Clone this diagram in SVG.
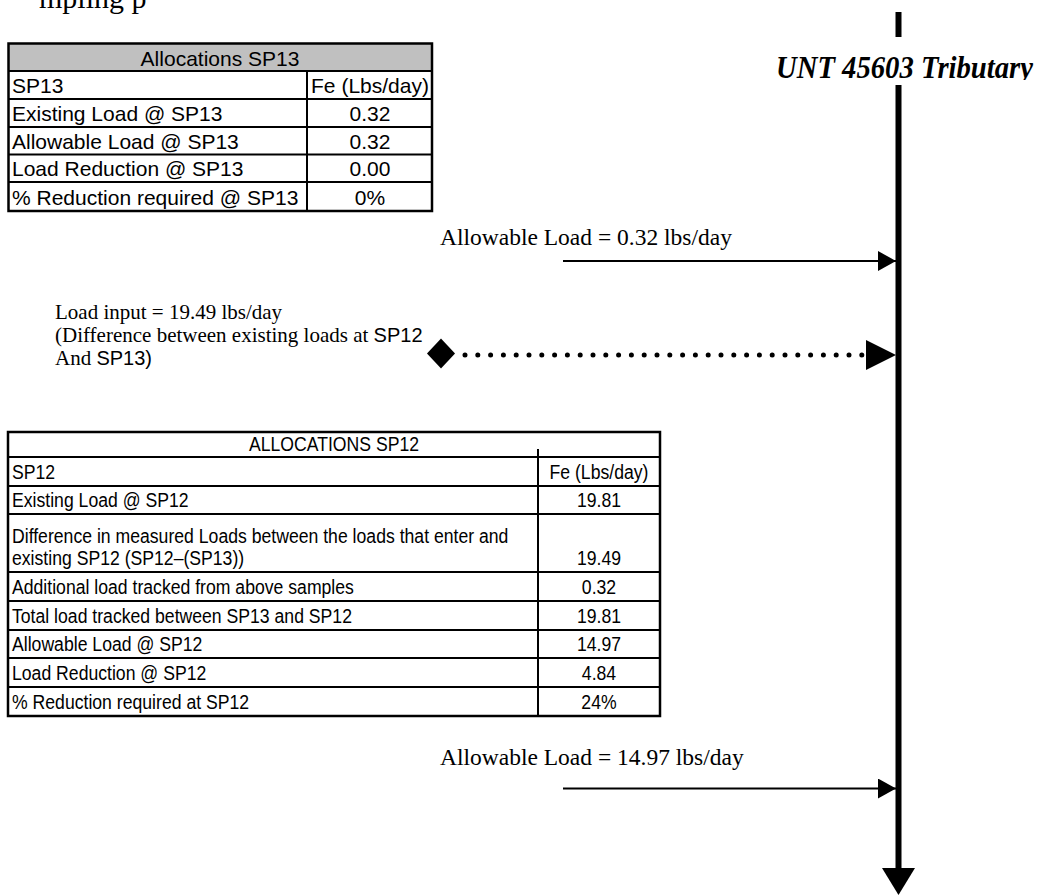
<svg xmlns="http://www.w3.org/2000/svg" width="1039" height="896" viewBox="0 0 1039 896">
<style>
.serif{font-family:"Liberation Serif","Times New Roman",serif;fill:#000}
.sans{font-family:"Liberation Sans",Arial,sans-serif;fill:#000}
.t13{font-size:21px}
.t12{font-size:21px}
.grid{stroke:#000;stroke-width:2;fill:none}
.outer{stroke:#000;stroke-width:2.5;fill:none}
.thin{stroke:#000;stroke-width:2;fill:none}
.river{stroke:#000;stroke-width:6;fill:none}
.mid{text-anchor:middle}
</style>
<defs>
<marker id="ah" markerUnits="userSpaceOnUse" markerWidth="18" markerHeight="20" refX="18" refY="10" orient="auto"><path d="M0,0 L18,10 L0,20 z" fill="#000"/></marker>
<marker id="ahBig" markerUnits="userSpaceOnUse" markerWidth="30" markerHeight="30" refX="30" refY="15" orient="auto"><path d="M0,0 L30,15 L0,30 z" fill="#000"/></marker>
<clipPath id="titleClip"><rect x="760" y="30" width="279" height="50"/></clipPath>
</defs>

<text class="serif" x="39" y="8" font-size="30">mpling p</text>

<g id="river">
<line class="river" x1="898.5" y1="12" x2="898.5" y2="37"/>
<line class="river" x1="898.5" y1="85" x2="898.5" y2="870"/>
<polygon points="882,868 915,868 898.5,895" fill="#000"/>
<text class="serif" x="776" y="78" font-size="32" font-weight="bold" font-style="italic" textLength="257" lengthAdjust="spacingAndGlyphs" clip-path="url(#titleClip)">UNT 45603 Tributary</text>
</g>

<g id="sp13-table">
<rect x="8.5" y="43.5" width="423.5" height="27.5" fill="#c0c0c0"/>
<rect class="outer" x="8.5" y="43.5" width="423.5" height="167.5"/>
<path class="grid" d="M8.5,71 H432 M8.5,99 H432 M8.5,127 H432 M8.5,154.5 H432 M8.5,182 H432 M307,71 V211"/>
<text class="sans t13 mid" x="220" y="66">Allocations SP13</text>
<text class="sans t13" x="12" y="93">SP13</text>
<text class="sans t13 mid" x="370" y="93">Fe (Lbs/day)</text>
<text class="sans t13" x="12" y="121">Existing Load @ SP13</text>
<text class="sans t13 mid" x="370" y="121">0.32</text>
<text class="sans t13" x="12" y="148.5">Allowable Load @ SP13</text>
<text class="sans t13 mid" x="370" y="148.5">0.32</text>
<text class="sans t13" x="12" y="176">Load Reduction @ SP13</text>
<text class="sans t13 mid" x="370" y="176">0.00</text>
<text class="sans t13" x="12" y="204.5">% Reduction required @ SP13</text>
<text class="sans t13 mid" x="370" y="204.5">0%</text>
</g>

<g id="load-input-label">
<text class="serif" font-size="21" x="55" y="319">Load input = 19.49 lbs/day</text>
<text class="serif" font-size="21" x="55" y="342">(Difference between existing loads at <tspan class="sans" font-size="20">SP12</tspan></text>
<text class="serif" font-size="21" x="55" y="365">And <tspan class="sans" font-size="20">SP13)</tspan></text>
</g>

<g id="sp12-table">
<rect class="outer" x="8" y="432" width="652" height="284"/>
<path class="grid" d="M8,457 H660 M8,486 H660 M8,514 H660 M8,572 H660 M8,601 H660 M8,630 H660 M8,658 H660 M8,687 H660 M538,457 V716 M538,449 V457"/>
<g transform="translate(334,0) scale(0.84,1)">
<text class="sans t12 mid" x="0" y="451">ALLOCATIONS SP12</text>
</g>
<g transform="translate(12,0) scale(0.84,1)">
<text class="sans t12" x="0" y="479">SP12</text>
<text class="sans t12" x="0" y="507">Existing Load @ SP12</text>
<text class="sans t12" x="0" y="543">Difference in measured Loads between the loads that enter and</text>
<text class="sans t12" x="0" y="565">existing SP12 (SP12–(SP13))</text>
<text class="sans t12" x="0" y="594">Additional load tracked from above samples</text>
<text class="sans t12" x="0" y="623">Total load tracked between SP13 and SP12</text>
<text class="sans t12" x="0" y="651">Allowable Load @ SP12</text>
<text class="sans t12" x="0" y="680">Load Reduction  @ SP12</text>
<text class="sans t12" x="0" y="709">% Reduction required at SP12</text>
</g>
<g transform="translate(599,0) scale(0.84,1)">
<text class="sans t12 mid" x="0" y="479">Fe (Lbs/day)</text>
<text class="sans t12 mid" x="0" y="507">19.81</text>
<text class="sans t12 mid" x="0" y="565">19.49</text>
<text class="sans t12 mid" x="0" y="594">0.32</text>
<text class="sans t12 mid" x="0" y="623">19.81</text>
<text class="sans t12 mid" x="0" y="651">14.97</text>
<text class="sans t12 mid" x="0" y="680">4.84</text>
<text class="sans t12 mid" x="0" y="709">24%</text>
</g>
</g>

<g id="label-sp13-allowable">
<text class="serif" font-size="23.5" x="440" y="245">Allowable Load = 0.32 lbs/day</text>
</g>
<g id="label-sp12-allowable">
<text class="serif" font-size="23.5" x="440" y="765">Allowable Load = 14.97 lbs/day</text>
</g>
<g id="diamond-source">
<polygon points="427,353.5 441,338.5 455,353.5 441,368.5" fill="#000"/>
</g>

<g id="connectors">
<line class="thin" x1="563" y1="261" x2="896" y2="261" marker-end="url(#ah)"/>
<line x1="465" y1="355" x2="896" y2="355" stroke="#000" stroke-width="5" stroke-linecap="round" stroke-dasharray="0 12.8" marker-end="url(#ahBig)"/>
<line class="thin" x1="563" y1="788.5" x2="896" y2="788.5" marker-end="url(#ah)"/>
</g>
</svg>
